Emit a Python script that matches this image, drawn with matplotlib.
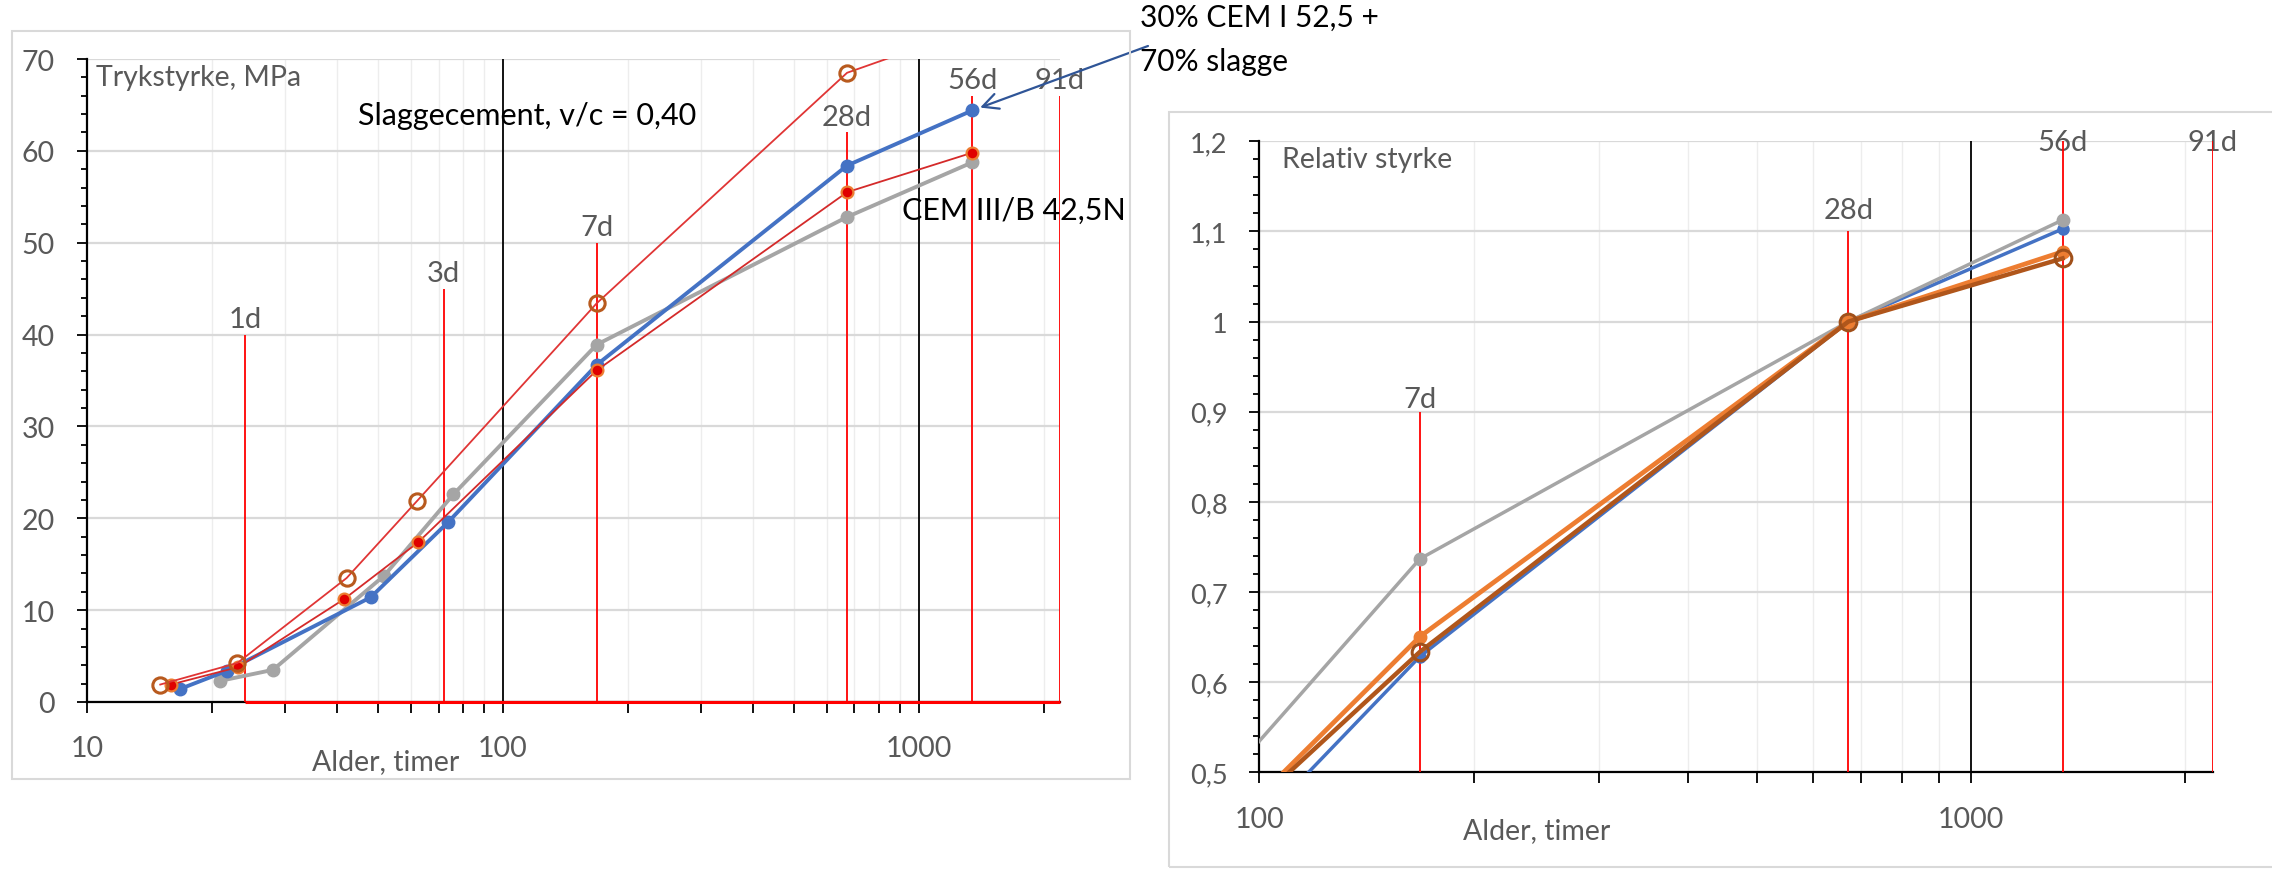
import numpy as np
import matplotlib
matplotlib.use('Agg')
import matplotlib.pyplot as plt
from matplotlib.patches import Rectangle
from matplotlib.ticker import MultipleLocator, LogLocator, FuncFormatter, NullFormatter

plt.rcParams['font.family'] = ['Lato', 'DejaVu Sans']

# alder (timer) og trykstyrke (MPa) for de fire blandingene
t_grey = [20.9, 28.0, 51.8, 76.0, 168, 672, 1344]
f_grey = [2.3, 3.5, 13.75, 22.6, 38.9, 52.8, 58.75]
t_blue = [16.7, 21.7, 48.1, 73.9, 168, 672, 1344]
f_blue = [1.4, 3.4, 11.4, 19.6, 36.7, 58.4, 64.4]
t_red = [15.9, 23.1, 41.5, 62.6, 168, 672, 1344]
f_red = [1.9, 3.8, 11.2, 17.4, 36.1, 55.5, 59.8]
t_brown = [15.0, 23.0, 42.1, 62.2, 168, 672, 1344]
f_brown = [1.9, 4.25, 13.5, 21.9, 43.4, 68.5, 73.3]

# markering av alder i dager
days = ['1d', '3d', '7d', '28d', '56d', '91d']
day_hours = [24, 72, 168, 672, 1344, 2184]
day_top = [40, 45, 50, 62, 66, 66]
days_rel = ['7d', '28d', '56d', '91d']
day_hours_rel = [168, 672, 1344, 2184]
day_top_rel = [0.9, 1.1, 1.2, 1.2]

IDX_28D = 5


def rel(f):
    f = np.asarray(f, dtype=float)
    return f / f[IDX_28D]


W, H = 2272, 870


def px_box(l, t, r, b):
    return [l / W, 1 - b / H, (r - l) / W, (b - t) / H]


GREY_TXT = '#595959'


def style(ax, ylo, yhi, major, minor, fmt):
    ax.set_xscale('log')
    ax.set_ylim(ylo, yhi)
    ax.yaxis.set_major_locator(MultipleLocator(major))
    ax.yaxis.set_minor_locator(MultipleLocator(minor))
    ax.yaxis.set_major_formatter(FuncFormatter(fmt))
    ax.xaxis.set_major_locator(LogLocator(10))
    ax.xaxis.set_minor_locator(LogLocator(10, subs=np.arange(2, 10)))
    ax.xaxis.set_minor_formatter(NullFormatter())
    ax.xaxis.set_major_formatter(FuncFormatter(lambda v, p: '%d' % round(v)))
    for s in ('top', 'right'):
        ax.spines[s].set_visible(False)
    for s in ('left', 'bottom'):
        ax.spines[s].set_linewidth(1.6)
    ax.grid(axis='y', which='major', color='#D9D9D9', lw=1.6)
    ax.grid(axis='x', which='minor', color='#EDEDED', lw=1)
    ax.set_axisbelow(True)
    ax.tick_params(axis='both', which='both', direction='out', colors='black',
                   labelcolor=GREY_TXT, labelsize=20.5, width=1.3)
    ax.tick_params(axis='y', which='major', length=7, pad=16)
    ax.tick_params(axis='y', which='minor', length=4)
    ax.tick_params(axis='x', which='both', length=8, pad=16)


fig = plt.figure(figsize=(22.72, 8.7), dpi=100)

# rammer rundt de to diagrammene
fig.add_artist(Rectangle((11.5 / W, 1 - 780 / H), (1130 - 11.5) / W, (780 - 32) / H,
                         transform=fig.transFigure, fill=False, ec='#D9D9D9', lw=1.5))
fig.add_artist(Rectangle((1169 / W, 1 - 868 / H), (2300 - 1169) / W, (868 - 113) / H,
                         transform=fig.transFigure, fill=False, ec='#D9D9D9', lw=1.5))

# --- trykstyrke ---
ax1 = fig.add_axes(px_box(87, 60, 1060, 703))
style(ax1, 0, 70, 10, 2, lambda v, p: '%d' % round(v))
ax1.set_xlim(10, 2184)

ax1.vlines([100, 1000], 0, 70, color='black', lw=1.3, zorder=2)
ax1.vlines(day_hours, 0, day_top, color='red', lw=1.3, zorder=3)
ax1.hlines(0, day_hours[0], day_hours[-1], color='red', lw=2.2, zorder=3, clip_on=False)
for d, h, top in zip(days, day_hours, day_top):
    ax1.text(h, top + 0.8, d, ha='center', va='baseline', fontsize=21, color=GREY_TXT)

ax1.plot(t_grey, f_grey, color='#A5A5A5', lw=2.8, marker='o', ms=9, zorder=4)
ax1.plot(t_blue, f_blue, color='#4472C4', lw=2.8, marker='o', ms=9, zorder=5)
ax1.plot(t_red, f_red, color='#D42A2A', lw=1.3, marker='o', ms=8.5,
         mfc='#E00000', mec='#ED7D31', mew=1.6, zorder=6)
ax1.plot(t_brown, f_brown, color='#E03535', lw=1.3, marker='o', ms=11,
         mfc='none', mec='#B85A1E', mew=2.2, zorder=6)

ax1.text(0.009, 0.992, 'Trykstyrke, MPa', transform=ax1.transAxes, ha='left', va='top',
         fontsize=20.5, color=GREY_TXT)
ax1.text(44.8, 62.9, 'Slaggecement, v/c = 0,40', ha='left', va='baseline',
         fontsize=22, color='black')
ax1.text(910, 52.6, 'CEM III/B 42,5N', ha='left', va='baseline', fontsize=22, color='black')
fig.text(386 / W, 1 - 762 / H, 'Alder, timer', ha='center', va='center',
         fontsize=20.5, color=GREY_TXT)

fig.text(1140 / W, 1 - 4 / H, '30% CEM I 52,5 +\n70% slagge', ha='left', va='top',
         fontsize=21.5, color='black', linespacing=1.7)
ax1.annotate('', xy=(t_blue[-1], f_blue[-1]), xycoords='data',
             xytext=(1148 / W, 1 - 47 / H), textcoords='figure fraction',
             arrowprops=dict(arrowstyle='->', color='#2F5597', lw=1.6,
                             mutation_scale=28, shrinkA=0, shrinkB=6))

# --- relativ styrke (i forhold til 28 døgn) ---
ax2 = fig.add_axes(px_box(1259.5, 142.3, 2212.6, 773.3))
style(ax2, 0.5, 1.2, 0.1, 0.02,
      lambda v, p: ('%g' % round(v, 2)).replace('.', ','))
ax2.set_xlim(100, 2184)
ax2.tick_params(axis='y', which='major', labelsize=19.5)

ax2.vlines([1000], 0.5, 1.2, color='black', lw=1.3, zorder=2)
ax2.vlines(day_hours_rel, 0.5, day_top_rel, color='red', lw=1.3, zorder=3)
for d, h, top in zip(days_rel, day_hours_rel, day_top_rel):
    y = top + 0.005 if top < 1.2 else 1.19
    if d == '28d':
        y = top + 0.015
    ax2.text(h, y, d, ha='center', va='baseline', fontsize=21, color=GREY_TXT, zorder=2)

ax2.plot(t_blue, rel(f_blue), color='#4472C4', lw=2.5, marker='o', ms=8, zorder=4)
ax2.plot(t_grey, rel(f_grey), color='#A5A5A5', lw=2.5, marker='o', ms=9, zorder=4)
ax2.plot(t_red, rel(f_red), color='#ED7D31', lw=3.4, marker='o', ms=9, zorder=5)
ax2.plot(t_brown, rel(f_brown), color='#B0561B', lw=3.2, marker='o', ms=12,
         mfc='none', mec='#A0501A', mew=2.2, zorder=6)

ax2.text(0.0236, 0.993, 'Relativ styrke', transform=ax2.transAxes, ha='left', va='top',
         fontsize=20.5, color=GREY_TXT)
fig.text(1537 / W, 1 - 831 / H, 'Alder, timer', ha='center', va='center',
         fontsize=20.5, color=GREY_TXT)

fig.savefig('out.png', dpi=100)
